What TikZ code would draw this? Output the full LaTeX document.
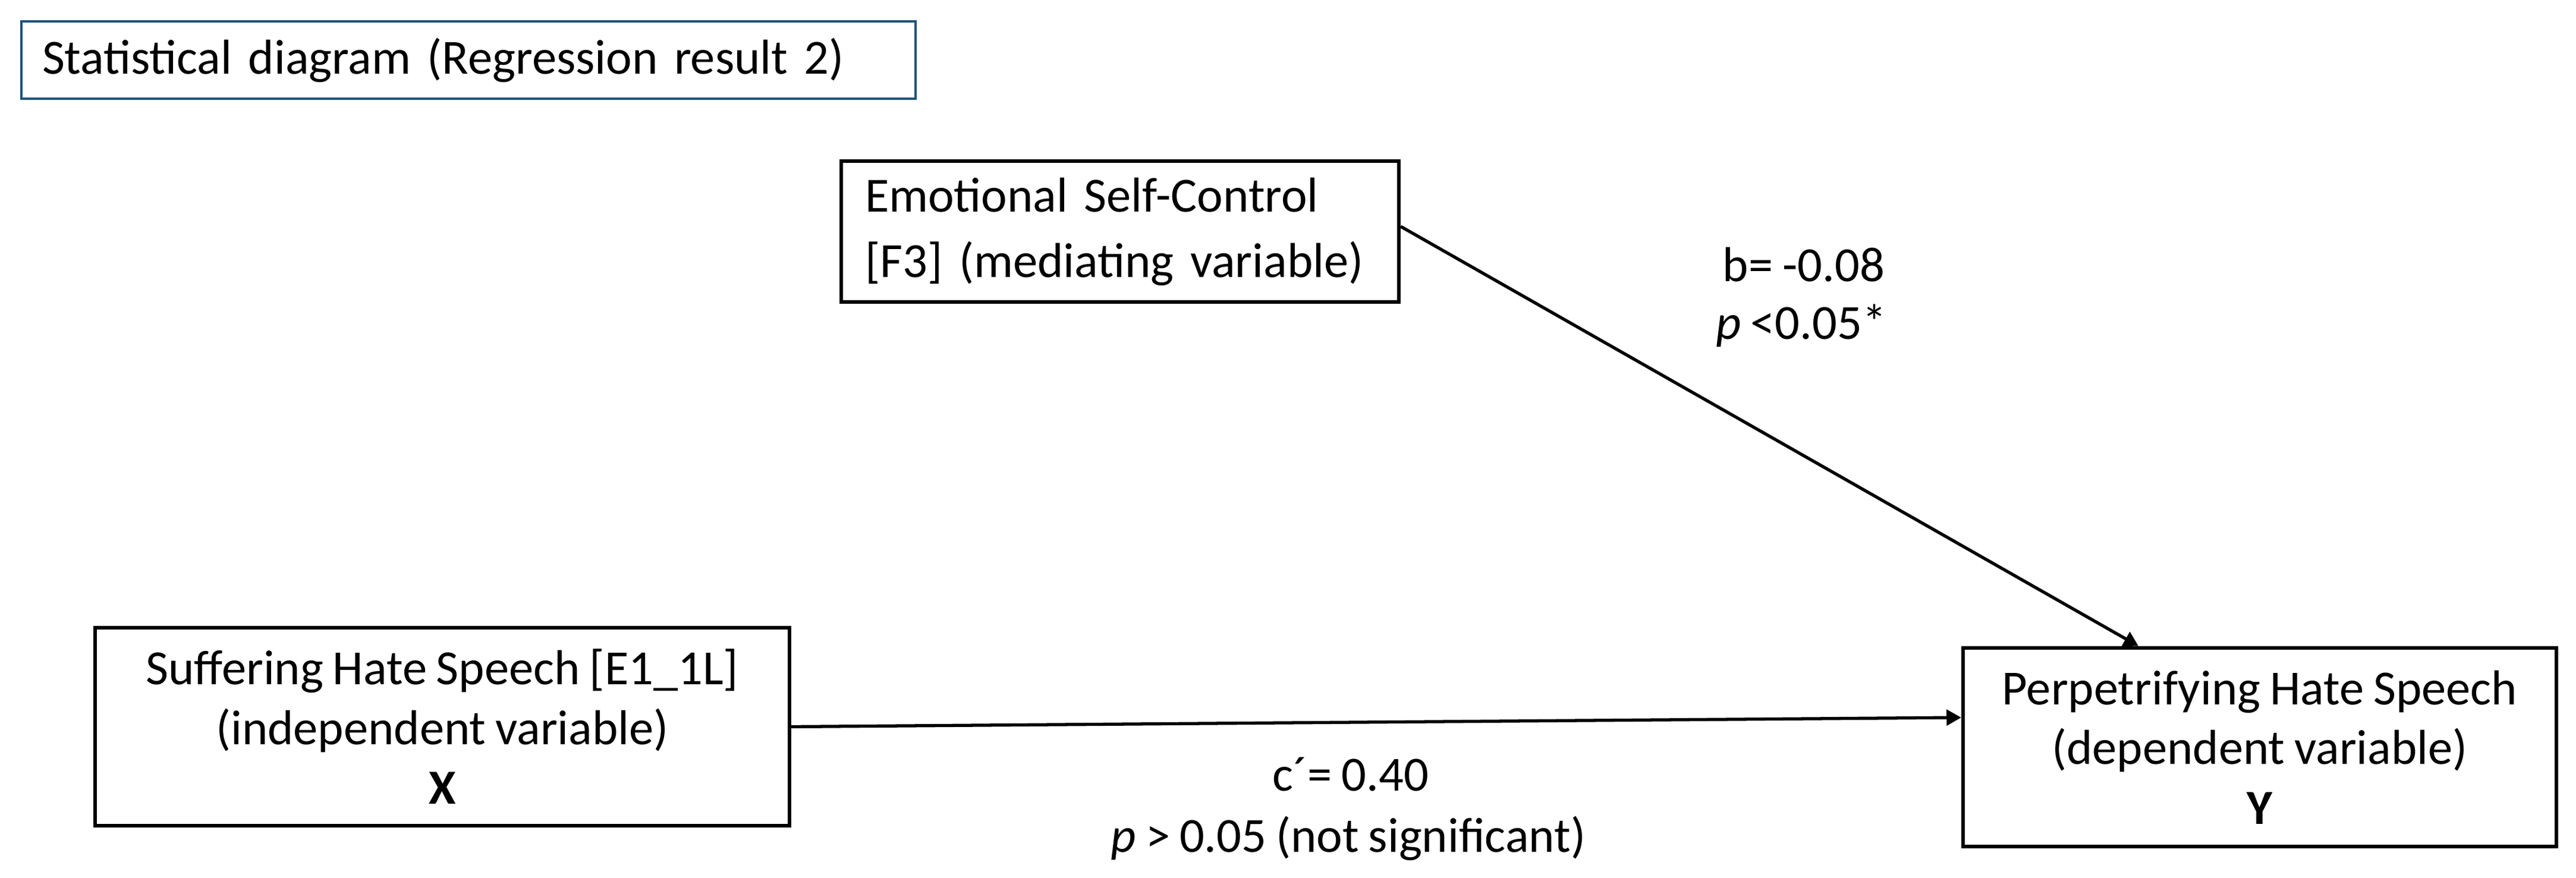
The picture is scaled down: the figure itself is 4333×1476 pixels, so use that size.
\documentclass[tikz,border=0pt]{standalone}
\usepackage{fontspec}
\setmainfont{Carlito}[WordSpace={0.85,0.5,0.5}]
\usetikzlibrary{arrows.meta}
\definecolor{titleblue}{RGB}{30,85,125}
\begin{document}
\begin{tikzpicture}[x=0.1mm,y=-0.1mm,
  every node/.style={font=\fontsize{23.5}{28.6}\selectfont},
  varbox/.style={draw=black, line width=1.8pt, inner sep=0pt, align=center},
  link/.style={line width=1.5pt, -{Triangle[length=7pt,width=7.5pt]}},
  lbl/.style={anchor=base, inner sep=0pt}]
\useasboundingbox (0,0) rectangle (4333,1476);
% title
\node[draw=titleblue, line width=1.4pt, minimum width=150.4mm, minimum height=13mm,
      inner xsep=3.5mm, inner ysep=0pt, text width=143.4mm, align=left] (title) at (788,101)
      {Statistical diagram (Regression result 2)};
% variable boxes
\node[varbox, minimum width=116.8mm, minimum height=33.3mm] (X) at (744,1222.5)
  {Suffering Hate Speech [E1\_1L]\\(independent variable)\\\textbf{X}};
\node[varbox, minimum width=93.8mm, minimum height=23.7mm, inner xsep=4mm, text width=85.8mm, align=left,
      font=\fontsize{23.5}{31.3}\selectfont] (M) at (1884,389.5)
  {Emotional Self-Control\\{}[F3] (mediating variable)};
\node[varbox, minimum width=99.8mm, minimum height=33.4mm] (Y) at (3801,1257)
  {Perpetrifying Hate Speech\\(dependent variable)\\\textbf{Y}};
% connectors
\draw[link] (X.east) -- ([yshift=5mm]Y.west);
\draw[link] ([yshift=0.85mm]M.east) -- ([xshift=-20.4mm]Y.north);
% labels
\node[lbl] (b1) at (3034,473) {b= -0.08};
\node[lbl] (b2) at (3030,570) {\textit{p} <0.05*};
\node[lbl] (c1) at (2272,1330) {c´= 0.40};
\node[lbl] (c2) at (2268,1433) {\textit{p} > 0.05 (not significant)};
\end{tikzpicture}
\end{document}
